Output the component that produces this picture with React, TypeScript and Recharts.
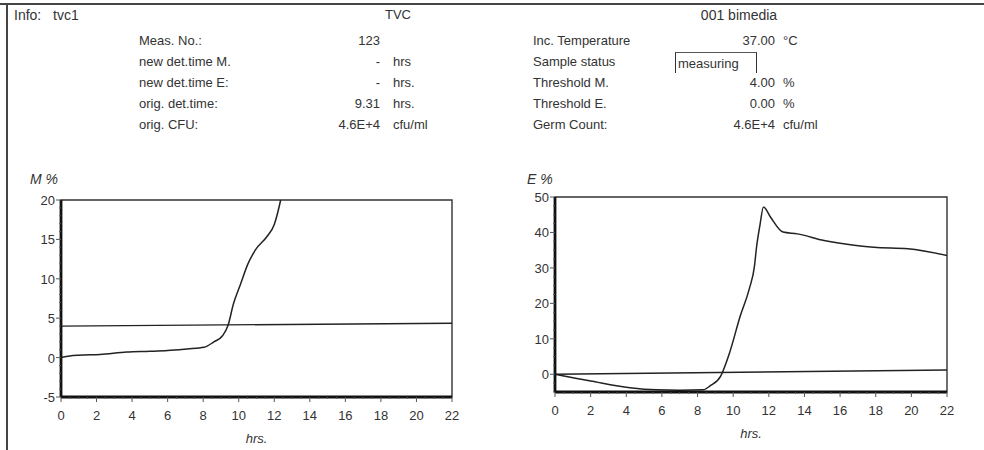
import React from 'react';
import { LineChart, Line, XAxis, YAxis, ReferenceArea, ReferenceLine } from 'recharts';

// M curve (left)
const mHours = [0, 0.5, 1, 2.2, 3.7, 5, 6, 7.1, 8.05, 8.6, 9.1, 9.4, 9.7, 10.1, 10.5, 10.95, 11.6, 12, 12.3, 12.36];
const mValues = [0, 0.2, 0.3, 0.4, 0.7, 0.8, 0.9, 1.1, 1.3, 2, 2.8, 4.1, 6.8, 9.3, 11.8, 13.7, 15.4, 16.9, 19.4, 20];

// E curve (right)
const eHours = [0, 0.5, 2, 4.2, 5.7, 7, 8.3, 8.7, 9.3, 9.8, 10.4, 10.9, 11.2, 11.3, 11.5, 11.7, 12.1, 12.8, 13.6, 15.1, 16.9, 17.9, 19.8, 22];
const eValues = [0, -0.5, -1.9, -3.8, -4.4, -4.5, -4.4, -3.3, -0.5, 6.1, 16.5, 24, 30.7, 35.4, 42, 47.2, 44.3, 40.1, 39.6, 37.7, 36.3, 35.8, 35.4, 33.5];

// threshold lines (start / end)
const thresholdHours = [0, 22];
const mThresholdValues = [4.0, 4.36];
const eThresholdValues = [0, 1.2];

const xMajor = [0, 2, 4, 6, 8, 10, 12, 14, 16, 18, 20, 22];
const mYMajor = [-5, 0, 5, 10, 15, 20];
const eYMajor = [0, 10, 20, 30, 40, 50];

const leftInfo = [
  ['Meas. No.:', '123', ''],
  ['new det.time M.', '-', 'hrs'],
  ['new det.time E:', '-', 'hrs.'],
  ['orig. det.time:', '9.31', 'hrs.'],
  ['orig. CFU:', '4.6E+4', 'cfu/ml']
];
const rightInfo = [
  ['Inc. Temperature', '37.00', '°C'],
  ['Sample status', '', ''],
  ['Threshold M.', '4.00', '%'],
  ['Threshold E.', '0.00', '%'],
  ['Germ Count:', '4.6E+4', 'cfu/ml']
];

const FONT = '"Liberation Sans", Arial, sans-serif';
const INK = '#222';

const toRows = (xs: number[], ys: number[]) => xs.map((h, i) => ({ h, v: ys[i] }));

const steps = (from: number, to: number, step: number) => {
  const out: number[] = [];
  for (let v = from; v <= to + 1e-9; v += step) out.push(Math.round(v * 100) / 100);
  return out;
};

const XTick = (props: any) => {
  const { x, y, payload, major } = props;
  const isMajor = major.includes(payload.value);
  return (
    <g>
      <line x1={x} x2={x} y1={y} y2={y + (isMajor ? 5 : 2)} stroke="#555" strokeWidth={1} />
      {isMajor && (
        <text x={x} y={y + 23} textAnchor="middle" fontSize={13} fontFamily={FONT} fill="#333">
          {payload.value}
        </text>
      )}
    </g>
  );
};

const YTick = (props: any) => {
  const { x, y, payload, major } = props;
  const isMajor = major.includes(payload.value);
  return (
    <g>
      <line x1={x} x2={x - (isMajor ? 5 : 2)} y1={y} y2={y} stroke="#555" strokeWidth={1} />
      {isMajor && (
        <text x={x - 6} y={y + 5} textAnchor="end" fontSize={13} fontFamily={FONT} fill="#333">
          {payload.value}
        </text>
      )}
    </g>
  );
};

function Panel(props: {
  curve: { h: number; v: number }[];
  threshold: { h: number; v: number }[];
  yDomain: [number, number];
  yMajor: number[];
  yMinorStep: number;
  width: number;
  height: number;
  margin: any;
  yWidth: number;
}) {
  const { curve, threshold, yDomain, yMajor, yMinorStep, width, height, margin, yWidth } = props;
  return (
    <LineChart width={width} height={height} data={curve} margin={margin}>
      <XAxis
        dataKey="h"
        type="number"
        domain={[0, 22]}
        ticks={steps(0, 22, 0.5)}
        interval={0}
        tickSize={0}
        tickMargin={0}
        tickLine={false}
        tick={<XTick major={xMajor} />}
        axisLine={false}
        height={52}
        allowDataOverflow
        label={{ value: 'hrs.', position: 'insideBottom', offset: 6, fontStyle: 'italic', fontSize: 13, fontFamily: FONT, fill: '#333' }}
      />
      <YAxis
        type="number"
        domain={yDomain}
        ticks={steps(yDomain[0], yDomain[1], yMinorStep)}
        interval={0}
        tickSize={0}
        tickMargin={0}
        tickLine={false}
        tick={<YTick major={yMajor} />}
        axisLine={false}
        width={yWidth}
        allowDataOverflow
      />
      {/* plot frame: thin box, thick left/bottom edges */}
      <ReferenceArea x1={0} x2={22} y1={yDomain[0]} y2={yDomain[1]} fill="none" stroke="#333" strokeWidth={1.4} />
      <Line data={threshold} dataKey="v" type="linear" stroke={INK} strokeWidth={1.4} dot={false} isAnimationActive={false} />
      <Line dataKey="v" type="monotone" stroke={INK} strokeWidth={1.5} dot={false} isAnimationActive={false} />
      <ReferenceLine y={yDomain[0]} stroke="#111" strokeWidth={2.8} />
      <ReferenceLine x={0} stroke="#111" strokeWidth={2.8} />
    </LineChart>
  );
}

const txt = (extra: React.CSSProperties): React.CSSProperties => ({
  position: 'absolute',
  fontFamily: FONT,
  fontSize: 13,
  color: '#333',
  whiteSpace: 'nowrap',
  lineHeight: '16px',
  ...extra
});

export default function App() {
  const rowTop = (i: number) => 33 + i * 21;
  return (
    <div style={{ position: 'fixed', left: 0, top: 0, width: 984, height: 450, background: '#fff', overflow: 'hidden' }}>
      {/* scan frame */}
      <div style={{ position: 'absolute', left: 0, top: 3, width: 984, height: 0, borderTop: '2px solid #444' }} />
      <div style={{ position: 'absolute', left: 6, top: 3, width: 0, height: 447, borderLeft: '2px solid #444' }} />

      <div style={txt({ left: 14, top: 7, fontSize: 14 })}>Info:</div>
      <div style={txt({ left: 53, top: 7, fontSize: 14 })}>tvc1</div>
      <div style={txt({ left: 370, top: 7, width: 56, textAlign: 'center' })}>TVC</div>
      <div style={txt({ left: 684, top: 7, width: 110, textAlign: 'center', fontSize: 14 })}>001 bimedia</div>

      {leftInfo.map((r, i) => (
        <React.Fragment key={'l' + i}>
          <div style={txt({ left: 139, top: rowTop(i) })}>{r[0]}</div>
          <div style={txt({ left: 300, width: 80, top: rowTop(i), textAlign: 'right' })}>{r[1]}</div>
          <div style={txt({ left: 393, top: rowTop(i) })}>{r[2]}</div>
        </React.Fragment>
      ))}
      {rightInfo.map((r, i) => (
        <React.Fragment key={'r' + i}>
          <div style={txt({ left: 533, top: rowTop(i) })}>{r[0]}</div>
          <div style={txt({ left: 695, width: 80, top: rowTop(i), textAlign: 'right' })}>{r[1]}</div>
          <div style={txt({ left: 783, top: rowTop(i) })}>{r[2]}</div>
        </React.Fragment>
      ))}
      <div style={txt({ left: 675, top: rowTop(1) - 2, width: 82, height: 21, borderTop: '1px solid #555', borderLeft: '1.5px solid #333', borderRight: '1.5px solid #333', paddingLeft: 2, boxSizing: 'border-box', lineHeight: '21px' })}>measuring</div>

      <div style={txt({ left: 30, top: 171, fontStyle: 'italic', fontSize: 14 })}>M %</div>
      <div style={txt({ left: 527, top: 171, fontStyle: 'italic', fontSize: 14 })}>E %</div>

      <div style={{ position: 'absolute', left: 0, top: 190 }}>
        <Panel
          curve={toRows(mHours, mValues)}
          threshold={toRows(thresholdHours, mThresholdValues)}
          yDomain={[-5, 20]}
          yMajor={mYMajor}
          yMinorStep={1}
          width={470}
          height={259}
          margin={{ top: 10, right: 18, bottom: 0, left: 0 }}
          yWidth={61}
        />
      </div>
      <div style={{ position: 'absolute', left: 490, top: 187 }}>
        <Panel
          curve={toRows(eHours, eValues)}
          threshold={toRows(thresholdHours, eThresholdValues)}
          yDomain={[-5, 50]}
          yMajor={eYMajor}
          yMinorStep={2.5}
          width={480}
          height={261}
          margin={{ top: 10, right: 23, bottom: 4, left: 0 }}
          yWidth={65}
        />
      </div>
    </div>
  );
}
